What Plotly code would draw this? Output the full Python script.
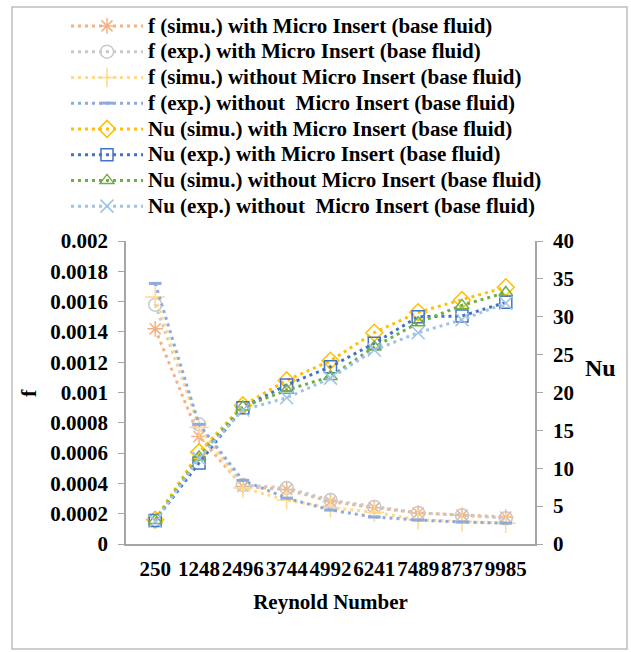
import plotly.graph_objects as go

# Reynolds numbers (category axis)
reynolds = ["250", "1248", "2496", "3744", "4992", "6241", "7489", "8737", "9985"]

# Friction factor f (left axis)
f_simu_with = [0.00142, 0.00071, 0.00038, 0.00036, 0.00028, 0.00024, 0.000205, 0.00019, 0.000178]
f_exp_with = [0.00158, 0.00079, 0.00039, 0.00037, 0.00029, 0.000245, 0.000205, 0.00019, 0.00017]
f_simu_without = [0.00163, 0.00077, 0.00037, 0.00029, 0.00024, 0.00021, 0.00016, 0.000147, 0.000137]
f_exp_without = [0.00172, 0.00079, 0.00042, 0.000303, 0.000224, 0.000178, 0.000158, 0.000145, 0.000138]

# Nusselt number Nu (right axis)
nu_simu_with = [3.2, 12.1, 18.3, 21.6, 24.2, 27.9, 30.6, 32.2, 33.9]
nu_exp_with = [3.1, 10.7, 18.0, 21.0, 23.4, 26.5, 30.0, 30.1, 31.9]
nu_simu_without = [3.1, 11.5, 18.1, 20.3, 22.1, 26.0, 29.2, 31.5, 33.2]
nu_exp_without = [3.0, 11.3, 17.7, 19.3, 21.9, 25.6, 27.9, 29.6, 31.8]

f_ticks = [0, 0.0002, 0.0004, 0.0006, 0.0008, 0.001, 0.0012, 0.0014, 0.0016, 0.0018, 0.002]
f_tick_text = ["0", "0.0002", "0.0004", "0.0006", "0.0008", "0.001", "0.0012", "0.0014", "0.0016", "0.0018", "0.002"]
nu_ticks = [0, 5, 10, 15, 20, 25, 30, 35, 40]
nu_tick_text = ["0", "5", "10", "15", "20", "25", "30", "35", "40"]

FONT = "Liberation Serif"
DASH = "3px,4px"
LEGEND_TEXT_SIZE = 21

series = [
    ("f (simu.) with Micro Insert (base fluid)", f_simu_with, "y", "#F4B183", "asterisk-open", 13, 1.5),
    ("f (exp.) with Micro Insert (base fluid)", f_exp_with, "y", "#C9C9C9", "circle-open-dot", 13, 1.5),
    ("f (simu.) without Micro Insert (base fluid)", f_simu_without, "y", "#FFD98F", "cross-thin-open", 14, 1.5),
    ("f (exp.) without  Micro Insert (base fluid)", f_exp_without, "y", "#8FAADC", "line-ew-open", 9, 3),
    ("Nu (simu.) with Micro Insert (base fluid)", nu_simu_with, "y2", "#FFC000", "diamond-open", 13, 1.5),
    ("Nu (exp.) with Micro Insert (base fluid)", nu_exp_with, "y2", "#4472C4", "square-open", 12, 1.5),
    ("Nu (simu.) without Micro Insert (base fluid)", nu_simu_without, "y2", "#70AD47", "triangle-up-open", 12, 1.5),
    ("Nu (exp.) without  Micro Insert (base fluid)", nu_exp_without, "y2", "#9DC3E6", "x-thin-open", 13, 1.5),
]

fig = go.Figure()
for name, vals, axis, color, symbol, size, mlw in series:
    label = name.replace("  ", "&nbsp; ")
    fig.add_trace(go.Scatter(
        x=reynolds, y=vals, yaxis=axis,
        name=f'<span style="font-size:{LEGEND_TEXT_SIZE}px">{label}</span>',
        mode="lines+markers",
        line=dict(color=color, width=3, dash=DASH),
        marker=dict(symbol=symbol, size=size, color=color,
                    line=dict(color=color, width=mlw)),
    ))

W, H = 631, 652
L, R, T, B = 126, 96, 241, 108
pw, ph = W - L - R, H - T - B

def px_x(p):
    return (p - L) / pw

def px_y(p):
    return (H - B - p) / ph

axis_color = "#A6A6A6"
tick_font = dict(family=FONT, size=21, color="black", weight="bold")

fig.update_layout(
    width=W, height=H,
    margin=dict(l=L, r=R, t=T, b=B, autoexpand=False),
    paper_bgcolor="white", plot_bgcolor="white",
    font=dict(family=FONT, color="black"),
    showlegend=True,
    legend=dict(
        x=px_x(66), y=px_y(8), xanchor="left", yanchor="top",
        font=dict(family=FONT, size=17.5, color="black", weight="bold"),
        itemwidth=72, tracegroupgap=0,
        bgcolor="rgba(0,0,0,0)",
    ),
    xaxis=dict(
        type="category", showgrid=False, showline=True, linecolor=axis_color,
        linewidth=1.5, ticks="", tickfont=tick_font, tickangle=0, ticklabelstandoff=5,
        title=dict(text="Reynold Number", font=dict(family=FONT, size=21, weight="bold"), standoff=14),
        zeroline=False,
    ),
    yaxis=dict(
        range=[0, 0.002], tickvals=f_ticks, ticktext=f_tick_text,
        showgrid=False, zeroline=False, showline=True, linecolor=axis_color, linewidth=1.5,
        ticks="outside", ticklen=6, tickcolor=axis_color, tickfont=tick_font,
        ticklabelstandoff=6,
    ),
    yaxis2=dict(
        range=[0, 40], tickvals=nu_ticks, ticktext=nu_tick_text,
        overlaying="y", side="right",
        showgrid=False, zeroline=False, showline=True, linecolor=axis_color, linewidth=1.5,
        ticks="outside", ticklen=6, tickcolor=axis_color, tickfont=tick_font,
        ticklabelstandoff=6,
    ),
    annotations=[
        dict(text="f", x=px_x(28), y=px_y(393), xref="paper", yref="paper",
             xanchor="center", yanchor="middle",
             showarrow=False, textangle=-90,
             font=dict(family=FONT, size=22, weight="bold")),
        dict(text="Nu", x=px_x(600), y=px_y(368), xref="paper", yref="paper",
             xanchor="center", yanchor="middle",
             showarrow=False, font=dict(family=FONT, size=24, weight="bold")),
    ],
    shapes=[
        dict(type="rect", xref="paper", yref="paper",
             x0=px_x(12), x1=px_x(627), y0=px_y(649), y1=px_y(7),
             line=dict(color="#BFBFBF", width=1.5), fillcolor="rgba(0,0,0,0)", layer="below"),
    ],
)

fig.write_html("out.html")
